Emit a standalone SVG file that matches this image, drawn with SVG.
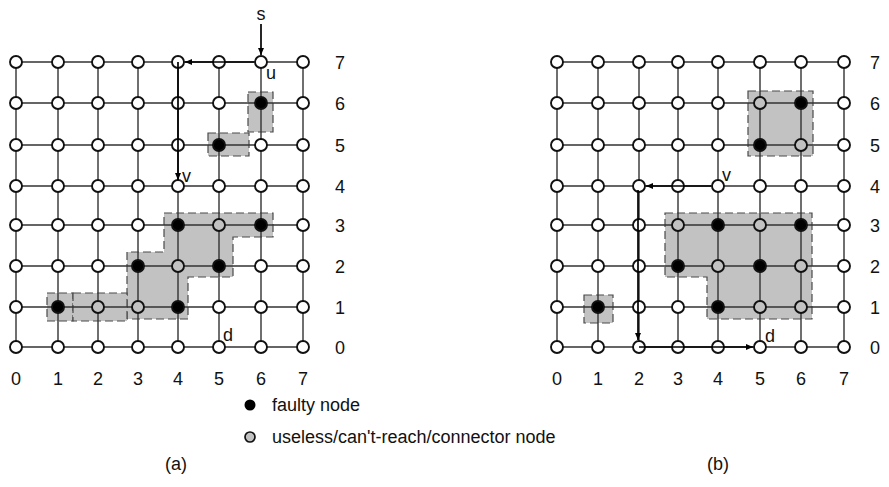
<svg xmlns="http://www.w3.org/2000/svg" width="889" height="487" viewBox="0 0 889 487">
<style>
.bg{fill:#fff}
.sh{fill:#c2c2c2;stroke:#4a4a4a;stroke-width:1.2;stroke-dasharray:8 4}
.gl{stroke:#333;stroke-width:1.4;fill:none}
.n circle{stroke:#111;stroke-width:1.9}
.w{fill:#fff}
.f{fill:#000}
.g{fill:#c2c2c2}
.p{stroke:#000;stroke-width:1.7;fill:none;marker-end:url(#ah)}
text{font-family:"Liberation Sans",Arial,sans-serif;fill:#111}
.num{font-size:18px;text-anchor:middle}
.lb{font-size:18px}
.lg{font-size:18px}
</style>
<defs>
<marker id="ah" markerUnits="userSpaceOnUse" markerWidth="7" markerHeight="6" refX="7" refY="3" orient="auto"><path d="M0,0 L7,3 L0,6 Z" fill="#000"/></marker>
</defs>
<rect class="bg" x="0" y="0" width="889" height="487"/>

<g id="regions">
<rect class="sh" x="248" y="92" width="25" height="40"/>
<rect class="sh" x="208" y="133" width="41" height="23"/>
<path class="sh" d="M164,213 H273 V237 H233 V277 H188 V319 H127 V252 H164 Z"/>
<rect class="sh" x="47" y="293" width="26" height="28"/>
<rect class="sh" x="73" y="293" width="54" height="28"/>
<rect class="sh" x="748" y="91" width="65" height="65"/>
<path class="sh" d="M665,213 H812 V319 H707 V277 H665 Z"/>
<rect class="sh" x="584" y="295" width="29" height="28"/>
</g>

<g id="grid-a" class="gl">
<path d="M16,62H303M16,103H303M16,145H303M16,186H303M16,225H303M16,266H303M16,307H303M16,347H303"/>
<path d="M16,62V347M58,62V347M98,62V347M138,62V347M178,62V347M219,62V347M261,62V347M303,62V347"/>
</g>
<g id="grid-b" class="gl">
<path d="M557,62H844M557,103H844M557,145H844M557,186H844M557,225H844M557,266H844M557,307H844M557,347H844"/>
<path d="M557,62V347M598,62V347M639,62V347M678,62V347M718,62V347M760,62V347M801,62V347M844,62V347"/>
</g>

<g id="nodes-a">
<g id="a-0-7" class="n"><circle class="w" cx="16" cy="62" r="6"/></g>
<g id="a-1-7" class="n"><circle class="w" cx="58" cy="62" r="6"/></g>
<g id="a-2-7" class="n"><circle class="w" cx="98" cy="62" r="6"/></g>
<g id="a-3-7" class="n"><circle class="w" cx="138" cy="62" r="6"/></g>
<g id="a-4-7" class="n"><circle class="w" cx="178" cy="62" r="6"/></g>
<g id="a-5-7" class="n"><circle class="w" cx="219" cy="62" r="6"/></g>
<g id="a-6-7" class="n"><circle class="w" cx="261" cy="62" r="6"/></g>
<g id="a-7-7" class="n"><circle class="w" cx="303" cy="62" r="6"/></g>
<g id="a-0-6" class="n"><circle class="w" cx="16" cy="103" r="6"/></g>
<g id="a-1-6" class="n"><circle class="w" cx="58" cy="103" r="6"/></g>
<g id="a-2-6" class="n"><circle class="w" cx="98" cy="103" r="6"/></g>
<g id="a-3-6" class="n"><circle class="w" cx="138" cy="103" r="6"/></g>
<g id="a-4-6" class="n"><circle class="w" cx="178" cy="103" r="6"/></g>
<g id="a-5-6" class="n"><circle class="w" cx="219" cy="103" r="6"/></g>
<g id="a-6-6" class="n"><circle class="f" cx="261" cy="103" r="6"/></g>
<g id="a-7-6" class="n"><circle class="w" cx="303" cy="103" r="6"/></g>
<g id="a-0-5" class="n"><circle class="w" cx="16" cy="145" r="6"/></g>
<g id="a-1-5" class="n"><circle class="w" cx="58" cy="145" r="6"/></g>
<g id="a-2-5" class="n"><circle class="w" cx="98" cy="145" r="6"/></g>
<g id="a-3-5" class="n"><circle class="w" cx="138" cy="145" r="6"/></g>
<g id="a-4-5" class="n"><circle class="w" cx="178" cy="145" r="6"/></g>
<g id="a-5-5" class="n"><circle class="f" cx="219" cy="145" r="6"/></g>
<g id="a-6-5" class="n"><circle class="w" cx="261" cy="145" r="6"/></g>
<g id="a-7-5" class="n"><circle class="w" cx="303" cy="145" r="6"/></g>
<g id="a-0-4" class="n"><circle class="w" cx="16" cy="186" r="6"/></g>
<g id="a-1-4" class="n"><circle class="w" cx="58" cy="186" r="6"/></g>
<g id="a-2-4" class="n"><circle class="w" cx="98" cy="186" r="6"/></g>
<g id="a-3-4" class="n"><circle class="w" cx="138" cy="186" r="6"/></g>
<g id="a-4-4" class="n"><circle class="w" cx="178" cy="186" r="6"/></g>
<g id="a-5-4" class="n"><circle class="w" cx="219" cy="186" r="6"/></g>
<g id="a-6-4" class="n"><circle class="w" cx="261" cy="186" r="6"/></g>
<g id="a-7-4" class="n"><circle class="w" cx="303" cy="186" r="6"/></g>
<g id="a-0-3" class="n"><circle class="w" cx="16" cy="225" r="6"/></g>
<g id="a-1-3" class="n"><circle class="w" cx="58" cy="225" r="6"/></g>
<g id="a-2-3" class="n"><circle class="w" cx="98" cy="225" r="6"/></g>
<g id="a-3-3" class="n"><circle class="w" cx="138" cy="225" r="6"/></g>
<g id="a-4-3" class="n"><circle class="f" cx="178" cy="225" r="6"/></g>
<g id="a-5-3" class="n"><circle class="g" cx="219" cy="225" r="6"/></g>
<g id="a-6-3" class="n"><circle class="f" cx="261" cy="225" r="6"/></g>
<g id="a-7-3" class="n"><circle class="w" cx="303" cy="225" r="6"/></g>
<g id="a-0-2" class="n"><circle class="w" cx="16" cy="266" r="6"/></g>
<g id="a-1-2" class="n"><circle class="w" cx="58" cy="266" r="6"/></g>
<g id="a-2-2" class="n"><circle class="w" cx="98" cy="266" r="6"/></g>
<g id="a-3-2" class="n"><circle class="f" cx="138" cy="266" r="6"/></g>
<g id="a-4-2" class="n"><circle class="g" cx="178" cy="266" r="6"/></g>
<g id="a-5-2" class="n"><circle class="f" cx="219" cy="266" r="6"/></g>
<g id="a-6-2" class="n"><circle class="w" cx="261" cy="266" r="6"/></g>
<g id="a-7-2" class="n"><circle class="w" cx="303" cy="266" r="6"/></g>
<g id="a-0-1" class="n"><circle class="w" cx="16" cy="307" r="6"/></g>
<g id="a-1-1" class="n"><circle class="f" cx="58" cy="307" r="6"/></g>
<g id="a-2-1" class="n"><circle class="g" cx="98" cy="307" r="6"/></g>
<g id="a-3-1" class="n"><circle class="g" cx="138" cy="307" r="6"/></g>
<g id="a-4-1" class="n"><circle class="f" cx="178" cy="307" r="6"/></g>
<g id="a-5-1" class="n"><circle class="w" cx="219" cy="307" r="6"/></g>
<g id="a-6-1" class="n"><circle class="w" cx="261" cy="307" r="6"/></g>
<g id="a-7-1" class="n"><circle class="w" cx="303" cy="307" r="6"/></g>
<g id="a-0-0" class="n"><circle class="w" cx="16" cy="347" r="6"/></g>
<g id="a-1-0" class="n"><circle class="w" cx="58" cy="347" r="6"/></g>
<g id="a-2-0" class="n"><circle class="w" cx="98" cy="347" r="6"/></g>
<g id="a-3-0" class="n"><circle class="w" cx="138" cy="347" r="6"/></g>
<g id="a-4-0" class="n"><circle class="w" cx="178" cy="347" r="6"/></g>
<g id="a-5-0" class="n"><circle class="w" cx="219" cy="347" r="6"/></g>
<g id="a-6-0" class="n"><circle class="w" cx="261" cy="347" r="6"/></g>
<g id="a-7-0" class="n"><circle class="w" cx="303" cy="347" r="6"/></g>
</g>

<g id="nodes-b">
<g id="b-0-7" class="n"><circle class="w" cx="557" cy="62" r="6"/></g>
<g id="b-1-7" class="n"><circle class="w" cx="598" cy="62" r="6"/></g>
<g id="b-2-7" class="n"><circle class="w" cx="639" cy="62" r="6"/></g>
<g id="b-3-7" class="n"><circle class="w" cx="678" cy="62" r="6"/></g>
<g id="b-4-7" class="n"><circle class="w" cx="718" cy="62" r="6"/></g>
<g id="b-5-7" class="n"><circle class="w" cx="760" cy="62" r="6"/></g>
<g id="b-6-7" class="n"><circle class="w" cx="801" cy="62" r="6"/></g>
<g id="b-7-7" class="n"><circle class="w" cx="844" cy="62" r="6"/></g>
<g id="b-0-6" class="n"><circle class="w" cx="557" cy="103" r="6"/></g>
<g id="b-1-6" class="n"><circle class="w" cx="598" cy="103" r="6"/></g>
<g id="b-2-6" class="n"><circle class="w" cx="639" cy="103" r="6"/></g>
<g id="b-3-6" class="n"><circle class="w" cx="678" cy="103" r="6"/></g>
<g id="b-4-6" class="n"><circle class="w" cx="718" cy="103" r="6"/></g>
<g id="b-5-6" class="n"><circle class="g" cx="760" cy="103" r="6"/></g>
<g id="b-6-6" class="n"><circle class="f" cx="801" cy="103" r="6"/></g>
<g id="b-7-6" class="n"><circle class="w" cx="844" cy="103" r="6"/></g>
<g id="b-0-5" class="n"><circle class="w" cx="557" cy="145" r="6"/></g>
<g id="b-1-5" class="n"><circle class="w" cx="598" cy="145" r="6"/></g>
<g id="b-2-5" class="n"><circle class="w" cx="639" cy="145" r="6"/></g>
<g id="b-3-5" class="n"><circle class="w" cx="678" cy="145" r="6"/></g>
<g id="b-4-5" class="n"><circle class="w" cx="718" cy="145" r="6"/></g>
<g id="b-5-5" class="n"><circle class="f" cx="760" cy="145" r="6"/></g>
<g id="b-6-5" class="n"><circle class="g" cx="801" cy="145" r="6"/></g>
<g id="b-7-5" class="n"><circle class="w" cx="844" cy="145" r="6"/></g>
<g id="b-0-4" class="n"><circle class="w" cx="557" cy="186" r="6"/></g>
<g id="b-1-4" class="n"><circle class="w" cx="598" cy="186" r="6"/></g>
<g id="b-2-4" class="n"><circle class="w" cx="639" cy="186" r="6"/></g>
<g id="b-3-4" class="n"><circle class="w" cx="678" cy="186" r="6"/></g>
<g id="b-4-4" class="n"><circle class="w" cx="718" cy="186" r="6"/></g>
<g id="b-5-4" class="n"><circle class="w" cx="760" cy="186" r="6"/></g>
<g id="b-6-4" class="n"><circle class="w" cx="801" cy="186" r="6"/></g>
<g id="b-7-4" class="n"><circle class="w" cx="844" cy="186" r="6"/></g>
<g id="b-0-3" class="n"><circle class="w" cx="557" cy="225" r="6"/></g>
<g id="b-1-3" class="n"><circle class="w" cx="598" cy="225" r="6"/></g>
<g id="b-2-3" class="n"><circle class="w" cx="639" cy="225" r="6"/></g>
<g id="b-3-3" class="n"><circle class="g" cx="678" cy="225" r="6"/></g>
<g id="b-4-3" class="n"><circle class="f" cx="718" cy="225" r="6"/></g>
<g id="b-5-3" class="n"><circle class="g" cx="760" cy="225" r="6"/></g>
<g id="b-6-3" class="n"><circle class="f" cx="801" cy="225" r="6"/></g>
<g id="b-7-3" class="n"><circle class="w" cx="844" cy="225" r="6"/></g>
<g id="b-0-2" class="n"><circle class="w" cx="557" cy="266" r="6"/></g>
<g id="b-1-2" class="n"><circle class="w" cx="598" cy="266" r="6"/></g>
<g id="b-2-2" class="n"><circle class="w" cx="639" cy="266" r="6"/></g>
<g id="b-3-2" class="n"><circle class="f" cx="678" cy="266" r="6"/></g>
<g id="b-4-2" class="n"><circle class="g" cx="718" cy="266" r="6"/></g>
<g id="b-5-2" class="n"><circle class="f" cx="760" cy="266" r="6"/></g>
<g id="b-6-2" class="n"><circle class="g" cx="801" cy="266" r="6"/></g>
<g id="b-7-2" class="n"><circle class="w" cx="844" cy="266" r="6"/></g>
<g id="b-0-1" class="n"><circle class="w" cx="557" cy="307" r="6"/></g>
<g id="b-1-1" class="n"><circle class="f" cx="598" cy="307" r="6"/></g>
<g id="b-2-1" class="n"><circle class="w" cx="639" cy="307" r="6"/></g>
<g id="b-3-1" class="n"><circle class="w" cx="678" cy="307" r="6"/></g>
<g id="b-4-1" class="n"><circle class="f" cx="718" cy="307" r="6"/></g>
<g id="b-5-1" class="n"><circle class="g" cx="760" cy="307" r="6"/></g>
<g id="b-6-1" class="n"><circle class="g" cx="801" cy="307" r="6"/></g>
<g id="b-7-1" class="n"><circle class="w" cx="844" cy="307" r="6"/></g>
<g id="b-0-0" class="n"><circle class="w" cx="557" cy="347" r="6"/></g>
<g id="b-1-0" class="n"><circle class="w" cx="598" cy="347" r="6"/></g>
<g id="b-2-0" class="n"><circle class="w" cx="639" cy="347" r="6"/></g>
<g id="b-3-0" class="n"><circle class="w" cx="678" cy="347" r="6"/></g>
<g id="b-4-0" class="n"><circle class="w" cx="718" cy="347" r="6"/></g>
<g id="b-5-0" class="n"><circle class="w" cx="760" cy="347" r="6"/></g>
<g id="b-6-0" class="n"><circle class="w" cx="801" cy="347" r="6"/></g>
<g id="b-7-0" class="n"><circle class="w" cx="844" cy="347" r="6"/></g>
</g>

<g id="connectors">
<path class="p" d="M261,24 V55"/>
<path class="p" d="M254,62 H185"/>
<path class="p" d="M178,62 V180"/>
<path class="p" d="M711,186 H646"/>
<path class="p" d="M638,190 V340"/>
<path class="p" d="M639,347 H753"/>
</g>

<g id="labels">
<text class="lb" x="261" y="20" text-anchor="middle">s</text>
<text class="lb" x="266" y="79">u</text>
<text class="lb" x="182" y="182">v</text>
<text class="lb" x="223" y="341">d</text>
<text class="lb" x="722" y="181">v</text>
<text class="lb" x="765" y="342">d</text>

<text class="num" x="16" y="385">0</text>
<text class="num" x="58" y="385">1</text>
<text class="num" x="98" y="385">2</text>
<text class="num" x="138" y="385">3</text>
<text class="num" x="178" y="385">4</text>
<text class="num" x="219" y="385">5</text>
<text class="num" x="261" y="385">6</text>
<text class="num" x="303" y="385">7</text>
<text class="num" x="340" y="68.5">7</text>
<text class="num" x="340" y="109.5">6</text>
<text class="num" x="340" y="151.5">5</text>
<text class="num" x="340" y="192.5">4</text>
<text class="num" x="340" y="231.5">3</text>
<text class="num" x="340" y="272.5">2</text>
<text class="num" x="340" y="313.5">1</text>
<text class="num" x="340" y="353.5">0</text>

<text class="num" x="557" y="385">0</text>
<text class="num" x="598" y="385">1</text>
<text class="num" x="639" y="385">2</text>
<text class="num" x="678" y="385">3</text>
<text class="num" x="718" y="385">4</text>
<text class="num" x="760" y="385">5</text>
<text class="num" x="801" y="385">6</text>
<text class="num" x="844" y="385">7</text>
<text class="num" x="875" y="68.5">7</text>
<text class="num" x="875" y="109.5">6</text>
<text class="num" x="875" y="151.5">5</text>
<text class="num" x="875" y="192.5">4</text>
<text class="num" x="875" y="231.5">3</text>
<text class="num" x="875" y="272.5">2</text>
<text class="num" x="875" y="313.5">1</text>
<text class="num" x="875" y="353.5">0</text>
</g>

<g id="legend">
<circle cx="250" cy="405" r="5.5" fill="#000"/>
<text class="lg" x="272" y="411">faulty node</text>
<circle cx="250" cy="437" r="5" fill="#c2c2c2" stroke="#111" stroke-width="1.7"/>
<text class="lg" x="272" y="443">useless/can't-reach/connector node</text>
</g>

<g id="captions">
<text class="lb" x="176" y="470" text-anchor="middle">(a)</text>
<text class="lb" x="718" y="470" text-anchor="middle">(b)</text>
</g>
</svg>
